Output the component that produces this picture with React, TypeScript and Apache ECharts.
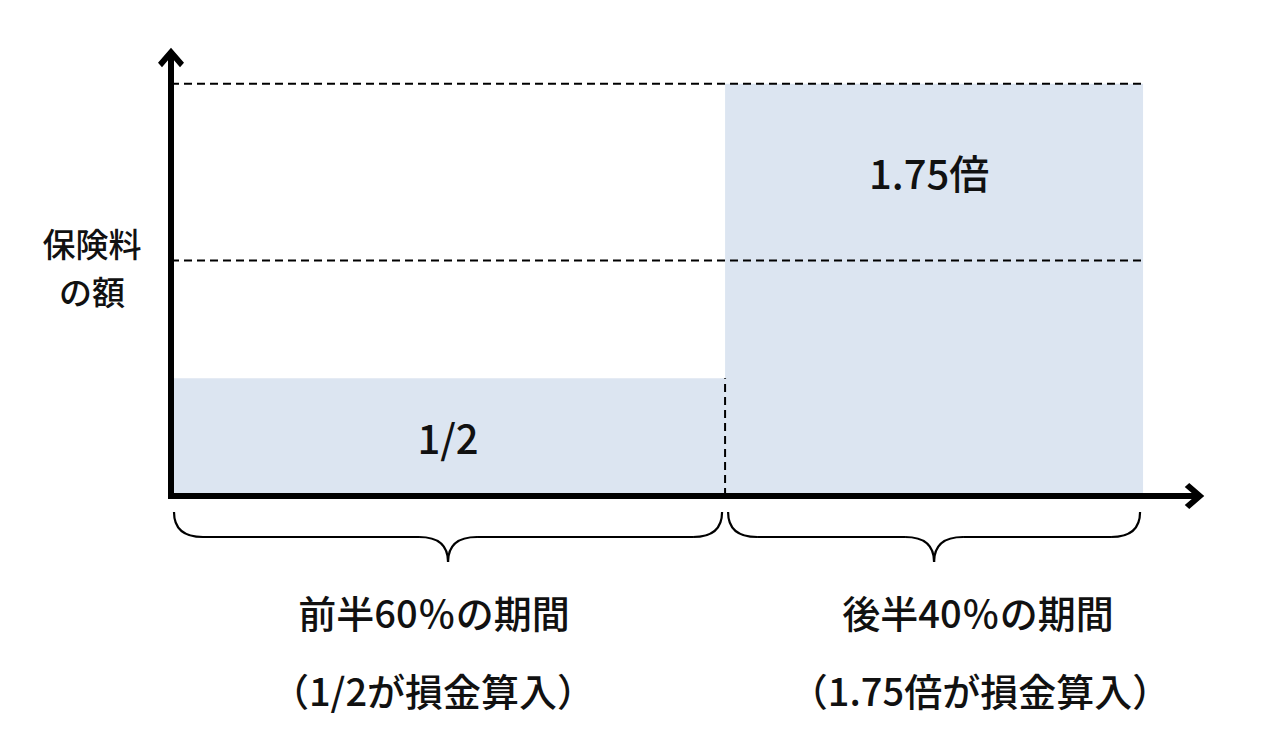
import { useEffect, useRef } from "react";
import * as echarts from "echarts";

// periods on the time axis (share of the whole term, as drawn)
const periodStart = [0, 57];
const periodEnd = [57, 100];
// premium level of each period, relative to the normal premium (= 1)
const rateValues = [0.5, 1.75];
const rateLabels = ["1/2", "1.75倍"];
const labelLevels = [0.25, 1.375];
const baseLevel = 1;
const periodTitles = ["前半60％の期間", "後半40％の期間"];
const periodNotes = ["（1/2が損金算入）", "（1.75倍が損金算入）"];
const yTitle = ["保険料", "の額"];

const FONT = '"Noto Sans CJK JP", "Noto Sans", sans-serif';
const FILL = "#dce5f1";
const INK = "#111111";
const ARROW = "path://M12,0 L25,15 L21,19.5 L12,9 L3,19.5 L-1,15 Z";

const textStyle = (text: string, size: number, lineHeight = size) => ({
  text,
  fontSize: size,
  fontWeight: 500,
  fontFamily: FONT,
  fill: INK,
  lineHeight,
  textAlign: "center",
  textVerticalAlign: "middle",
  verticalAlign: "middle"
});

export default function App() {
  const ref = useRef<HTMLDivElement | null>(null);

  useEffect(() => {
    if (!ref.current) {
      return;
    }
    const instance = echarts.init(ref.current, null, { renderer: "svg" });

    const rects = periodStart.map((s, i) => [s, periodEnd[i], rateValues[i], labelLevels[i]]);
    const braces = periodStart.map((s, i) => [s, periodEnd[i], 0]);

    const axisLine = {
      show: true,
      symbol: ["none", ARROW],
      symbolSize: [26, 20],
      symbolOffset: [0, -3],
      lineStyle: { color: "#000000", width: 6, cap: "square" }
    };

    instance.setOption({
      animation: false,
      grid: { left: 171, right: 81.5, top: 54.4, bottom: 245 },
      xAxis: {
        type: "value",
        min: 0,
        max: 105.6,
        z: 10,
        axisLine,
        axisTick: { show: false },
        axisLabel: { show: false },
        splitLine: { show: false }
      },
      yAxis: {
        type: "value",
        min: 0,
        max: 1.875,
        z: 10,
        axisLine,
        axisTick: { show: false },
        axisLabel: { show: false },
        splitLine: { show: false }
      },
      graphic: [
        ...yTitle.map((t, i) => ({
          type: "text",
          x: 92,
          y: 243 + i * 48,
          style: textStyle(t, 33)
        })),
        ...periodTitles.map((t, i) => ({
          type: "text",
          x: [434, 978][i],
          y: 611,
          style: textStyle(t, 38)
        })),
        ...periodNotes.map((t, i) => ({
          type: "text",
          x: [433, 980][i],
          y: 689,
          style: textStyle(t, 38)
        }))
      ],
      series: [
        {
          type: "custom",
          z: 1,
          encode: { x: [0, 1], y: 2 },
          data: rects,
          renderItem: (params: any, api: any) => {
            const p0 = api.coord([api.value(0), 0]);
            const p1 = api.coord([api.value(1), api.value(2)]);
            const pl = api.coord([(api.value(0) + api.value(1)) / 2, api.value(3)]);
            return {
              type: "group",
              children: [
                {
                  type: "rect",
                  shape: { x: p0[0], y: p1[1], width: p1[0] - p0[0], height: p0[1] - p1[1] },
                  style: { fill: FILL }
                },
                {
                  type: "text",
                  x: pl[0] - (params.dataIndex === 1 ? 5 : 0),
                  y: pl[1],
                  z2: 5,
                  style: textStyle(rateLabels[params.dataIndex], 40)
                }
              ]
            };
          }
        },
        {
          type: "custom",
          z: 3,
          clip: false,
          encode: { x: [0, 1], y: 2 },
          data: braces,
          renderItem: (params: any, api: any) => {
            const a = api.coord([api.value(0), 0]);
            const b = api.coord([api.value(1), 0]);
            const xa = a[0] + 3;
            const xb = b[0] - 3;
            const xc = (xa + xb) / 2;
            const y0 = a[1] + 16;
            const y1 = a[1] + 41;
            const y2 = a[1] + 66;
            const r = 29;
            const st = { stroke: "#000000", lineWidth: 2.2, fill: "none" };
            return {
              type: "group",
              children: [
                { type: "bezierCurve", shape: { x1: xa, y1: y0, x2: xa + r, y2: y1, cpx1: xa, cpy1: y1 }, style: st },
                { type: "line", shape: { x1: xa + r, y1: y1, x2: xc - r, y2: y1 }, style: st },
                { type: "bezierCurve", shape: { x1: xc - r, y1: y1, x2: xc, y2: y2, cpx1: xc, cpy1: y1 }, style: st },
                { type: "bezierCurve", shape: { x1: xc, y1: y2, x2: xc + r, y2: y1, cpx1: xc, cpy1: y1 }, style: st },
                { type: "line", shape: { x1: xc + r, y1: y1, x2: xb - r, y2: y1 }, style: st },
                { type: "bezierCurve", shape: { x1: xb - r, y1: y1, x2: xb, y2: y0, cpx1: xb, cpy1: y1 }, style: st }
              ]
            };
          }
        },
        {
          type: "line",
          z: 4,
          symbol: "none",
          silent: true,
          data: [[periodStart[0], baseLevel], [periodEnd[1], baseLevel]],
          lineStyle: { color: "#000000", width: 2, type: [8, 5] }
        },
        {
          type: "line",
          z: 4,
          symbol: "none",
          silent: true,
          data: [[periodStart[0], rateValues[1]], [periodEnd[1], rateValues[1]]],
          lineStyle: { color: "#000000", width: 2, type: [8, 5] }
        },
        {
          type: "line",
          z: 4,
          symbol: "none",
          silent: true,
          data: [[periodEnd[0], 0], [periodEnd[0], rateValues[0]]],
          lineStyle: { color: "#000000", width: 2, type: [8, 5] }
        }
      ]
    });

    return () => {
      instance.dispose();
    };
  }, []);

  return (
    <div
      ref={ref}
      style={{ position: "absolute", left: 0, top: 0, width: 1279, height: 741, background: "#ffffff" }}
    />
  );
}
